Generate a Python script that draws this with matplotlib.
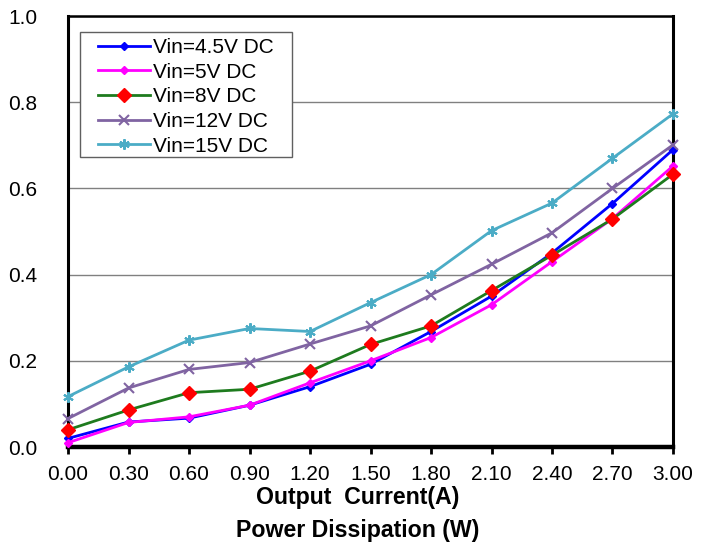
import matplotlib
matplotlib.use("Agg")
import matplotlib.pyplot as plt
from matplotlib.patches import Rectangle

currents = [0.00, 0.30, 0.60, 0.90, 1.20, 1.50, 1.80, 2.10, 2.40, 2.70, 3.00]
x_tick_labels = ["0.00", "0.30", "0.60", "0.90", "1.20", "1.50", "1.80", "2.10", "2.40", "2.70", "3.00"]
y_ticks = [0.0, 0.2, 0.4, 0.6, 0.8, 1.0]

vin_4p5 = [0.020, 0.058, 0.067, 0.097, 0.140, 0.192, 0.268, 0.350, 0.450, 0.565, 0.690]
vin_5 = [0.010, 0.057, 0.070, 0.097, 0.149, 0.200, 0.254, 0.330, 0.430, 0.530, 0.652]
vin_8 = [0.040, 0.086, 0.126, 0.134, 0.176, 0.238, 0.281, 0.363, 0.445, 0.529, 0.633]
vin_12 = [0.066, 0.137, 0.180, 0.196, 0.239, 0.281, 0.353, 0.424, 0.497, 0.600, 0.701]
vin_15 = [0.117, 0.186, 0.248, 0.275, 0.268, 0.335, 0.400, 0.502, 0.566, 0.670, 0.773]

plt.rcParams['font.family'] = ['Liberation Sans', 'DejaVu Sans']

fig = plt.figure(figsize=(7.05, 5.45), dpi=100)
ax = fig.add_axes([0.0965, 0.1798, 0.8581, 0.7908])

kw = dict(lw=2, zorder=3, clip_on=False)
ax.plot(currents, vin_4p5, color='#0000FF', marker='D', ms=4.5, mfc='#0000FF', mec='#0000FF', label='Vin=4.5V DC', **kw)
ax.plot(currents, vin_5, color='#FF00FF', marker='D', ms=4.5, mfc='#FF00FF', mec='#FF00FF', label='Vin=5V DC', **kw)
ax.plot(currents, vin_8, color='#1E7B1E', marker='D', ms=7, mfc='#FF0000', mec='#FF0000', label='Vin=8V DC', **kw)
ax.plot(currents, vin_12, color='#8064A2', marker='x', ms=6.5, mew=1.5, label='Vin=12V DC', **kw)
ax.plot(currents, vin_15, color='#4BACC6', marker=(6, 2, 0), ms=7.5, mew=1.5, label='Vin=15V DC', **kw)

ax.set_xlim(0, 3.0)
ax.set_ylim(0, 1.0)
ax.set_xticks(currents)
ax.set_xticklabels(x_tick_labels)
ax.set_yticks(y_ticks)
ax.set_yticklabels([f"{v:.1f}" for v in y_ticks])
ax.tick_params(axis='x', direction='out', length=5, width=2, labelsize=15, pad=8)
ax.tick_params(axis='y', length=0, labelsize=15, pad=22)

ax.yaxis.grid(True, color='#808080', lw=1)
ax.set_axisbelow(True)

for side in ['left', 'right']:
    ax.spines[side].set_linewidth(2.2)
ax.spines['top'].set_linewidth(1.8)
ax.spines['bottom'].set_linewidth(3.2)
for s in ax.spines.values():
    s.set_color('black')

fig.text(0.508, 0.088, 'Output  Current(A)', ha='center', va='center', fontsize=16.7, fontweight='bold')
fig.text(0.508, 0.0275, 'Power Dissipation (W)', ha='center', va='center', fontsize=16.7, fontweight='bold')

# legend frame box
ax.add_patch(Rectangle((0.0198, 0.673), 0.3504, 0.290, transform=ax.transAxes,
                       facecolor='white', edgecolor='#606060', lw=1, zorder=4))
leg = ax.legend(loc='upper left', bbox_to_anchor=(0.0496, 0.949), fontsize=15, frameon=False,
                borderpad=0, labelspacing=0.27, handlelength=2.5,
                handletextpad=0.15, borderaxespad=0)
leg.set_zorder(5)

fig.savefig('out.png', dpi=100)
